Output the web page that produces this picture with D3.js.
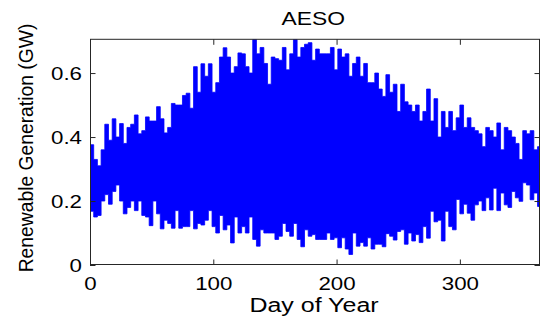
<!DOCTYPE html>
<html>
<head>
<meta charset="utf-8">
<script src="https://cdn.jsdelivr.net/npm/d3@7"></script>
<style>
  html, body { margin: 0; padding: 0; background: #ffffff; }
  svg { display: block; }
  text { font-family: "Liberation Sans", Arial, Helvetica, sans-serif; fill: #000; }
</style>
</head>
<body>
<svg id="chart" width="549" height="325"></svg>
<script>
// ---- Data ----
const title = "AESO";
const xLabel = "Day of Year";
const yLabel = "Renewable Generation (GW)";
const xTicks = [0, 100, 200, 300];
const yTicks = [0, 0.2, 0.4, 0.6];
const xDomain = [0, 365];
const yDomain = [0, 0.7055];

// Envelope readings every 3 days (day 0, 3, 6, ... 363)
const sampleStep = 3;
// Upper edge of the band (GW)
const upperGW = [
  0.376, 0.33, 0.31, 0.36, 0.44, 0.39, 0.457, 0.40, 0.442, 0.38,
  0.43, 0.44, 0.469, 0.41, 0.42, 0.463, 0.45, 0.45, 0.495, 0.457,
  0.413, 0.43, 0.505, 0.50, 0.50, 0.53, 0.537, 0.49, 0.62, 0.54,
  0.629, 0.59, 0.629, 0.54, 0.57, 0.65, 0.679, 0.65, 0.60, 0.62,
  0.663, 0.66, 0.62, 0.60, 0.705, 0.66, 0.68, 0.63, 0.565, 0.65,
  0.645, 0.64, 0.68, 0.61, 0.66, 0.705, 0.65, 0.68, 0.69, 0.695,
  0.64, 0.675, 0.66, 0.66, 0.66, 0.68, 0.61, 0.675, 0.65, 0.66,
  0.59, 0.63, 0.65, 0.59, 0.63, 0.57, 0.57, 0.60, 0.55, 0.527,
  0.595, 0.54, 0.565, 0.48, 0.565, 0.51, 0.50, 0.48, 0.50, 0.45,
  0.48, 0.55, 0.45, 0.52, 0.40, 0.48, 0.43, 0.48, 0.42, 0.46,
  0.50, 0.43, 0.46, 0.43, 0.42, 0.41, 0.37, 0.43, 0.42, 0.40,
  0.444, 0.36, 0.43, 0.42, 0.40, 0.38, 0.33, 0.42, 0.41, 0.42,
  0.36, 0.37
];
// Lower edge of the band (GW)
const lowerGW = [
  0.168, 0.15, 0.155, 0.20, 0.22, 0.19, 0.23, 0.25, 0.20, 0.16,
  0.18, 0.20, 0.17, 0.20, 0.155, 0.15, 0.123, 0.20, 0.16, 0.113,
  0.14, 0.13, 0.115, 0.17, 0.115, 0.12, 0.12, 0.17, 0.113, 0.13,
  0.125, 0.14, 0.17, 0.12, 0.10, 0.155, 0.11, 0.125, 0.069, 0.15,
  0.10, 0.12, 0.10, 0.15, 0.08, 0.059, 0.11, 0.10, 0.10, 0.10,
  0.08, 0.09, 0.13, 0.105, 0.09, 0.13, 0.08, 0.057, 0.11, 0.09,
  0.095, 0.08, 0.08, 0.08, 0.10, 0.08, 0.085, 0.054, 0.085, 0.05,
  0.033, 0.10, 0.059, 0.07, 0.059, 0.085, 0.05, 0.065, 0.065, 0.057,
  0.098, 0.09, 0.078, 0.105, 0.11, 0.065, 0.10, 0.075, 0.095, 0.07,
  0.12, 0.084, 0.168, 0.135, 0.14, 0.075, 0.168, 0.12, 0.11, 0.205,
  0.16, 0.19, 0.162, 0.14, 0.188, 0.20, 0.17, 0.21, 0.172, 0.24,
  0.17, 0.225, 0.188, 0.18, 0.23, 0.21, 0.199, 0.257, 0.25, 0.204,
  0.225, 0.183
];

// ---- Layout ----
const svg = d3.select("#chart");
const plot = { left: 90, right: 540, top: 39.3, bottom: 265 };
const x = d3.scaleLinear().domain(xDomain).range([plot.left, plot.right]);
const y = d3.scaleLinear().domain(yDomain).range([plot.bottom, plot.top]);
const blue = "#0000ff";

svg.append("rect").attr("width", 549).attr("height", 325).attr("fill", "#fff");

svg.append("clipPath").attr("id", "clip")
  .append("rect")
  .attr("x", plot.left).attr("y", plot.top)
  .attr("width", plot.right - plot.left).attr("height", plot.bottom - plot.top);

const g = svg.append("g").attr("clip-path", "url(#clip)");

const band = upperGW.map((v, i) => ({ day: i * sampleStep, hi: v, lo: lowerGW[i] }));
// close the last step interval at the end of the sampling window
const last = band[band.length - 1];
const bandDrawn = band.concat([{ day: last.day + sampleStep, hi: last.hi, lo: last.lo }]);

// filled band between the lower and upper readings (hourly-like blocky edges)
g.append("path")
  .datum(bandDrawn)
  .attr("fill", blue)
  .attr("stroke", blue)
  .attr("stroke-width", 0.8)
  .attr("d", d3.area().curve(d3.curveStepAfter).x(d => x(d.day)).y0(d => y(d.lo)).y1(d => y(d.hi)));

// ---- Axes (MATLAB style: box, inward ticks) ----
const tickLen = 5.5;
const axisColor = "#262626";
const tickFont = 18;
const tickStretch = 1.24;

const xAxisB = svg.append("g").attr("transform", `translate(0,${plot.bottom})`)
  .call(d3.axisBottom(x).tickValues(xTicks).tickSizeInner(-tickLen).tickSizeOuter(0).tickFormat(d3.format("d")));
const xAxisT = svg.append("g").attr("transform", `translate(0,${plot.top})`)
  .call(d3.axisTop(x).tickValues(xTicks).tickSizeInner(-tickLen).tickSizeOuter(0).tickFormat(""));
const yAxisL = svg.append("g").attr("transform", `translate(${plot.left},0)`)
  .call(d3.axisLeft(y).tickValues(yTicks).tickSizeInner(-tickLen).tickSizeOuter(0).tickFormat(d => d === 0 ? "0" : d3.format(".1f")(d)));
const yAxisR = svg.append("g").attr("transform", `translate(${plot.right},0)`)
  .call(d3.axisRight(y).tickValues(yTicks).tickSizeInner(-tickLen).tickSizeOuter(0).tickFormat(""));

[xAxisB, xAxisT, yAxisL, yAxisR].forEach(a => {
  a.select(".domain").remove();
  a.selectAll("line").attr("stroke", axisColor).attr("stroke-width", 1);
});

xAxisB.selectAll("text")
  .attr("font-size", tickFont)
  .attr("fill", "#000")
  .attr("y", 25).attr("dy", 0)
  .attr("text-anchor", "middle")
  .attr("transform", `scale(${tickStretch},1)`);

yAxisL.selectAll("text")
  .attr("font-size", tickFont)
  .attr("fill", "#000")
  .attr("x", -8 / tickStretch).attr("dy", "0.36em")
  .attr("text-anchor", "end")
  .attr("transform", `scale(${tickStretch},1)`);

// box
svg.append("rect")
  .attr("x", plot.left + 0.5).attr("y", plot.top)
  .attr("width", plot.right - plot.left - 1).attr("height", plot.bottom - plot.top - 0.5)
  .attr("fill", "none").attr("stroke", axisColor).attr("stroke-width", 1);

// ---- Titles ----
svg.append("g").attr("transform", "translate(313.3,25) scale(1.27,1)")
  .append("text").attr("text-anchor", "middle").attr("font-size", 18).text(title);

svg.append("g").attr("transform", "translate(314,311.5) scale(1.25,1)")
  .append("text").attr("text-anchor", "middle").attr("font-size", 20).text(xLabel);

svg.append("g").attr("transform", "translate(33.3,148) rotate(-90) scale(1,1.09)")
  .append("text").attr("text-anchor", "middle").attr("font-size", 19.3).text(yLabel);
</script>
</body>
</html>
